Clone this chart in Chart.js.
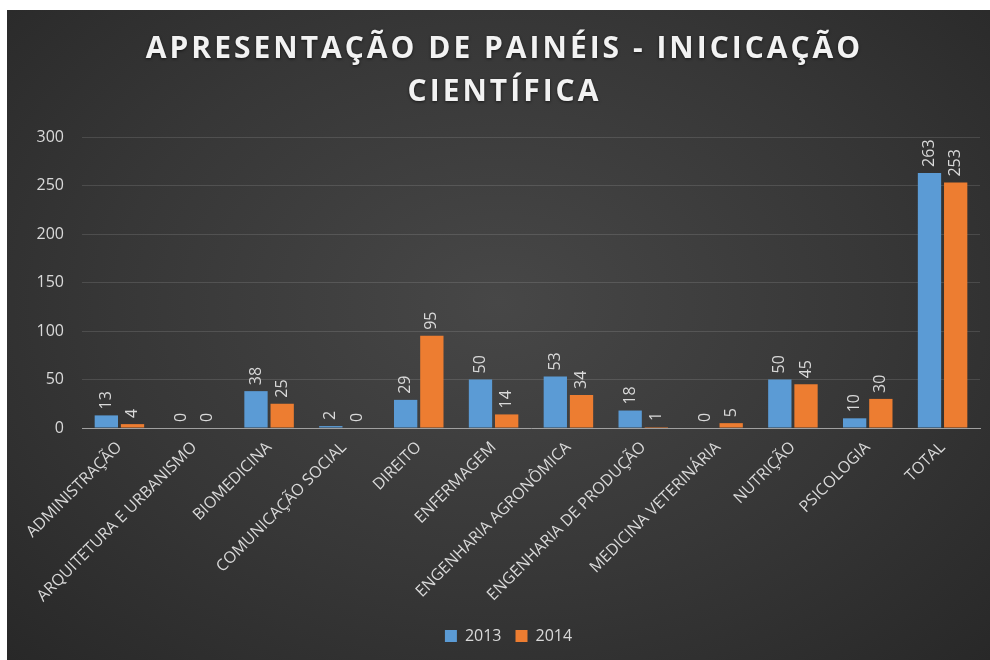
<!DOCTYPE html>
<html>
<head>
<meta charset="utf-8">
<script src="https://cdn.jsdelivr.net/npm/chart.js@4.4.1/dist/chart.umd.min.js"></script>
<style>
    html, body { margin: 0; padding: 0; background: #ffffff; }
    #frame {
        position: absolute;
        left: 7px;
        top: 10px;
        width: 983px;
        height: 650px;
        background: radial-gradient(ellipse at 50% 45%, #474747 0%, #373737 55%, #282828 100%);
    }
</style>
</head>
<body>
<div id="frame"><canvas id="grafico" width="983" height="650"></canvas></div>
<script>
// dados do gráfico
const cursos = ['ADMINISTRAÇÃO', 'ARQUITETURA E URBANISMO', 'BIOMEDICINA', 'COMUNICAÇÃO SOCIAL', 'DIREITO', 'ENFERMAGEM', 'ENGENHARIA AGRONÔMICA', 'ENGENHARIA DE PRODUÇÃO', 'MEDICINA VETERINÁRIA', 'NUTRIÇÃO', 'PSICOLOGIA', 'TOTAL'];
const valores2013 = [13, 0, 38, 2, 29, 50, 53, 18, 0, 50, 10, 263];
const valores2014 = [4, 0, 25, 0, 95, 14, 34, 1, 5, 45, 30, 253];
const tituloLinhas = ['APRESENTAÇÃO DE PAINÉIS - INICICAÇÃO', 'CIENTÍFICA'];

const corTexto = '#d9d9d9';
const fonte = '"Open Sans", "Noto Sans", sans-serif';

// título com espaçamento entre letras
const pluginTitulo = {
    id: 'tituloEspacado',
    afterDraw(chart) {
        const ctx = chart.ctx;
        ctx.save();
        ctx.font = 'bold 30px ' + fonte;
        ctx.fillStyle = '#f2f2f2';
        ctx.textAlign = 'center';
        ctx.textBaseline = 'alphabetic';
        if ('letterSpacing' in ctx) ctx.letterSpacing = '3px';
        ctx.shadowColor = 'rgba(0,0,0,0.6)';
        ctx.shadowBlur = 3;
        ctx.shadowOffsetY = 1;
        const cx = chart.width / 2 + 6;
        ctx.fillText(tituloLinhas[0], cx, 48);
        ctx.fillText(tituloLinhas[1], cx, 91);
        ctx.restore();
    }
};

// rótulos de dados verticais sobre as barras
const pluginRotulos = {
    id: 'rotulosBarras',
    afterDatasetsDraw(chart) {
        const ctx = chart.ctx;
        ctx.save();
        ctx.font = '16px ' + fonte;
        ctx.fillStyle = corTexto;
        ctx.textAlign = 'left';
        ctx.textBaseline = 'middle';
        chart.data.datasets.forEach((ds, i) => {
            const meta = chart.getDatasetMeta(i);
            meta.data.forEach((bar, j) => {
                ctx.save();
                ctx.translate(bar.x, bar.y - 6);
                ctx.rotate(-Math.PI / 2);
                ctx.fillText(String(ds.data[j]), 0, 0);
                ctx.restore();
            });
        });
        ctx.restore();
    }
};

new Chart(document.getElementById('grafico'), {
    type: 'bar',
    data: {
        labels: cursos,
        datasets: [
            { label: '2013', data: valores2013, backgroundColor: '#5b9bd5', categoryPercentage: 0.7, barPercentage: 0.89 },
            { label: '2014', data: valores2014, backgroundColor: '#ed7d31', categoryPercentage: 0.7, barPercentage: 0.89 }
        ]
    },
    options: {
        responsive: false,
        animation: false,
        layout: { padding: { top: 127, left: 30, right: 10, bottom: 6 } },
        plugins: {
            title: { display: false },
            tooltip: { enabled: false },
            legend: {
                position: 'bottom',
                labels: {
                    color: corTexto,
                    font: { family: fonte, size: 16 },
                    boxWidth: 12,
                    boxHeight: 12,
                    padding: 14
                }
            }
        },
        scales: {
            x: {
                grid: { display: false },
                border: { color: '#a0a0a0', width: 1 },
                ticks: {
                    color: corTexto,
                    font: { family: fonte, size: 16 },
                    minRotation: 45,
                    maxRotation: 45,
                    autoSkip: false,
                    padding: 2
                },
                afterFit(scale) {
                    // rótulos inclinados podem ultrapassar a margem esquerda
                    scale.paddingLeft = 0;
                    scale.height = 186;
                }
            },
            y: {
                min: 0,
                max: 300,
                ticks: { stepSize: 50, color: corTexto, font: { family: fonte, size: 16 }, padding: 18 },
                grid: { color: 'rgba(255,255,255,0.12)', drawTicks: false },
                border: { display: false },
                afterFit(scale) {
                    scale.width = 45;
                }
            }
        }
    },
    plugins: [pluginTitulo, pluginRotulos]
});
</script>
</body>
</html>
